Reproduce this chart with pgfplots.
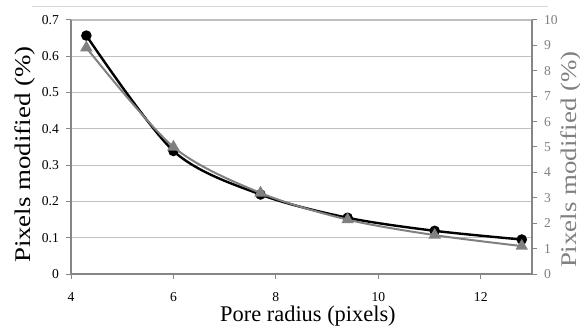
\documentclass[border=0pt]{standalone}
\usepackage{pgfplots}
\pgfplotsset{compat=1.18}
\usepackage{fontspec}
\setmainfont{Liberation Serif}
\definecolor{gridc}{RGB}{192,192,192}
\definecolor{axc}{RGB}{134,134,134}
\definecolor{sertwo}{RGB}{128,128,128}
\definecolor{framec}{RGB}{215,215,215}

\pgfplotsset{
  base/.style={
    width=230.5pt, height=127pt, scale only axis,
    xmin=4, xmax=13,
    axis line style={axc, line width=0.6pt, -},
    tick style={axc, line width=0.5pt},
    tick align=outside, major tick length=2.5pt,
    ticklabel style={font=\fontsize{6.8}{7}\selectfont},
    /pgf/number format/assume math mode=true,
    label style={font=\fontsize{11.2}{13}\selectfont},
  },
}

\begin{document}
\begin{tikzpicture}
\begin{axis}[
  base, name=ax,
  ymin=0, ymax=0.7,
  xtick={4,6,8,10,12},
  ytick={0,0.1,0.2,0.3,0.4,0.5,0.6,0.7},
  yticklabel style={/pgf/number format/fixed, /pgf/number format/precision=1},
  axis x line*=bottom, axis y line*=left,
  ymajorgrids, grid style={gridc, line width=0.6pt},
  xticklabel style={yshift=-3pt},
  xlabel={Pore radius (pixels)},
  ylabel={Pixels modified (\%)},
  xlabel style={at={(axis description cs:0.514,-0.165)}, anchor=center},
  ylabel style={at={(axis description cs:-0.1,0.47)}, anchor=center, xscale=1.2},
]
\addplot[black, line width=1.2pt, smooth, mark=*, mark size=2pt] coordinates {
(4.3, 0.657)
(6.0, 0.339)
(7.7, 0.219)
(9.4, 0.155)
(11.1, 0.119)
(12.8, 0.095)
};
\end{axis}
\begin{axis}[
  base,
  ymin=0, ymax=10,
  ytick={0,1,2,3,4,5,6,7,8,9,10},
  axis x line=none, axis y line*=right,
  yticklabel style={text=sertwo},
  ylabel={Pixels modified (\%)},
  ylabel style={text=sertwo, at={(axis description cs:1.085,0.45)}, anchor=center, xscale=1.2},
]
\addplot[sertwo, line width=1pt, smooth, mark=triangle*, mark size=2.6pt] coordinates {
(4.3, 8.91)
(6.0, 5.00)
(7.7, 3.19)
(9.4, 2.14)
(11.1, 1.53)
(12.8, 1.10)
};
\end{axis}
\draw[framec, line width=0.5pt] ([shift={(-19.5pt,6.5pt)}]ax.north west) -- ([shift={(8pt,6.5pt)}]ax.north east);
\pgfresetboundingbox
\path ([shift={(-35.5pt,-28.5pt)}]ax.south west) rectangle ([shift={(24pt,10pt)}]ax.north east);
\end{tikzpicture}
\end{document}
